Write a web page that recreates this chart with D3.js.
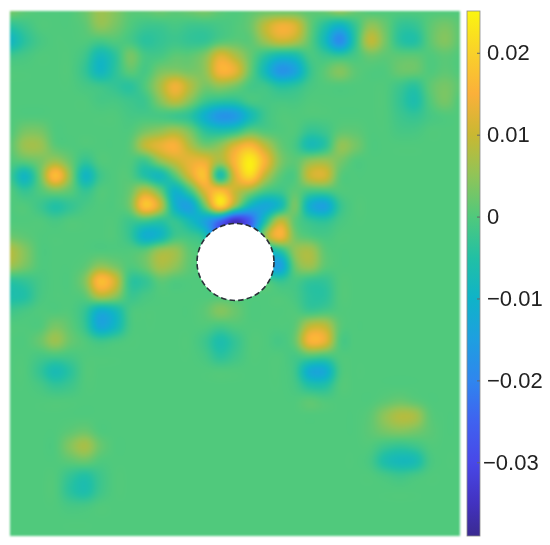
<!DOCTYPE html>
<html>
<head>
<meta charset="utf-8">
<script src="https://cdn.jsdelivr.net/npm/d3@7"></script>
<style>
  body { margin: 0; background: #fff; }
  #chart { position: relative; width: 550px; height: 545px; overflow: hidden; }
  #chart canvas, #chart svg { position: absolute; left: 0; top: 0; }
  #chart canvas { filter: blur(0.9px); }
</style>
</head>
<body>
<div id="chart"></div>
<script>
// field, in units of 0.001, 31 columns x 36 rows
var heatValues = [
  [3,1,0,0,0,2,6,4,1,1, 2,1,2,3,1,0,1,2,2,2, 1,2,5,2,0,0,0,0,0,0, 0],
  [-4,-2,0,0,0,1,5,3,0,-2, -2,-1,-2,-2,-1,0,2,9,14,12, 2,-5,-10,-3,5,2,-3,-3,1,3, 1],
  [-9,-4,-1,0,0,0,-1,0,-1,-4, -3,-2,-3,-3,0,1,1,6,10,8, 1,-8,-19,-4,9,3,-4,-5,1,4, 1],
  [-2,-1,0,0,0,-2,-8,-4,3,-1, -1,1,1,4,12,8,2,-4,-8,-7, -1,-2,-3,-1,2,1,1,1,0,1, 0],
  [0,0,0,0,0,-3,-9,-4,1,-1, 3,4,3,5,15,13,2,-8,-17,-14, -3,1,4,1,0,0,2,2,0,1, 0],
  [0,0,0,0,0,-1,-2,-3,-4,0, 7,14,8,3,5,3,-1,-2,-5,-4, -1,0,0,0,0,0,-2,-4,1,3, 1],
  [0,0,0,0,0,0,-1,-1,-2,-2, 4,9,4,-2,-4,-4,-1,-1,-1,-1, 0,0,0,0,0,0,-3,-6,0,3, 0],
  [0,0,0,0,0,0,0,0,-1,-1, -1,-2,-4,-11,-17,-16,-8,-2,0,0, 0,0,0,0,0,0,-2,-3,-1,0, 0],
  [0,3,3,0,0,0,0,0,0,3, 5,7,3,-4,-6,-4,1,0,0,0, -3,-2,1,1,0,0,-1,-1,0,0, 0],
  [1,6,6,1,0,0,0,0,1,9, 13,15,8,3,5,12,16,9,2,-1, -7,-4,5,3,0,0,0,0,0,0, 0],
  [0,1,3,6,2,-3,0,0,0,-2, 5,10,13,13,7,16,24,15,4,1, 5,6,3,0,0,0,0,0,0,0, 0],
  [-2,-9,2,17,5,-9,-2,0,0,-5, -8,0,11,17,-6,12,21,9,1,0, 10,11,1,0,0,0,0,0,0,0, 0],
  [0,-3,0,3,1,-3,0,0,2,9, 2,-10,-2,12,17,10,5,-1,-2,1, -1,-1,0,0,0,0,0,0,0,0, 0],
  [0,0,-2,-5,-3,-1,0,0,3,18, 10,-10,-14,2,20,5,-9,-13,-8,3, -11,-14,-3,0,0,0,0,0,0,0, 0],
  [0,0,0,-1,0,0,0,0,-2,-2, -4,-3,-8,-14,-24,-35,-26,-6,9,1, -3,-4,-1,0,0,0,0,0,0,0, 0],
  [2,1,0,0,0,0,0,0,-3,-11, -9,-2,-2,-6,-25,-25,-18,5,15,3, 0,-1,0,0,0,0,0,0,0,0, 0],
  [8,4,0,0,0,0,0,0,0,1, 6,6,1,0,0,0,0,-8,-5,5, 7,1,0,0,0,0,0,0,0,0, 0],
  [6,3,0,0,0,1,5,3,0,2, 7,5,1,0,0,0,0,-10,-15,2, 6,1,0,0,0,0,0,0,0,0, 0],
  [-4,-3,-1,0,0,4,17,11,-3,-3, 1,0,0,0,0,0,0,0,-3,-1, -3,-3,0,0,0,0,0,0,0,0, 0],
  [-6,-5,-1,0,0,1,8,5,-2,-1, 0,0,0,0,0,0,0,0,0,-1, -4,-4,0,0,0,0,0,0,0,0, 0],
  [-2,-1,0,0,0,-3,-11,-8,-1,0, 0,0,0,1,4,2,0,0,0,0, -2,-1,0,0,0,0,0,0,0,0, 0],
  [0,0,0,3,1,-3,-13,-9,-1,0, 0,0,0,0,-1,0,0,0,0,1, 9,9,1,0,0,0,0,0,0,0, 0],
  [0,0,2,6,2,0,-2,-1,0,0, 0,0,0,-2,-6,-3,0,0,-1,2, 15,13,0,0,0,0,0,0,0,0, 0],
  [0,0,-1,-1,-1,0,0,0,0,0, 0,0,0,-1,-4,-2,0,0,0,-1, 0,-1,0,0,0,0,0,0,0,0, 0],
  [0,0,-3,-7,-4,0,0,0,0,0, 0,0,0,0,0,0,0,0,0,-2, -12,-12,-1,0,0,0,0,0,0,0, 0],
  [0,0,-1,-3,-2,0,0,0,0,0, 0,0,0,0,0,0,0,0,0,-1, -5,-5,0,0,0,0,0,0,0,0, 0],
  [0,0,0,0,0,0,0,0,0,0, 0,0,0,0,0,0,0,0,0,0, 1,0,0,0,0,1,2,1,0,0, 0],
  [0,0,0,0,0,0,0,0,0,0, 0,0,0,0,0,0,0,0,0,0, 0,0,0,0,1,5,8,7,1,0, 0],
  [0,0,0,0,1,2,0,0,0,0, 0,0,0,0,0,0,0,0,0,0, 0,0,0,0,1,3,4,3,1,0, 0],
  [0,0,0,0,4,7,2,0,0,0, 0,0,0,0,0,0,0,0,0,0, 0,0,0,0,0,-2,-3,-2,0,0, 0],
  [0,0,0,0,1,2,0,0,0,0, 0,0,0,0,0,0,0,0,0,0, 0,0,0,0,-1,-6,-8,-7,-1,0, 0],
  [0,0,0,0,-3,-5,-2,0,0,0, 0,0,0,0,0,0,0,0,0,0, 0,0,0,0,0,-1,-2,-1,0,0, 0],
  [0,0,0,0,-4,-6,-2,0,0,0, 0,0,0,0,0,0,0,0,0,0, 0,0,0,0,0,0,0,0,0,0, 0],
  [0,0,0,0,-1,-1,0,0,0,0, 0,0,0,0,0,0,0,0,0,0, 0,0,0,0,0,0,0,0,0,0, 0],
  [0,0,0,0,0,0,0,0,0,0, 0,0,0,0,0,0,0,0,0,0, 0,0,0,0,0,0,0,0,0,0, 0],
  [0,0,0,0,0,0,0,0,0,0, 0,0,0,0,0,0,0,0,0,0, 0,0,0,0,0,0,0,0,0,0, 0]
];
var heatUnit = 0.001;

// colour bar
var colorValues = [-0.039, -0.035, -0.03, -0.025, -0.02, -0.015, -0.01, -0.005, 0, 0.005, 0.01, 0.015, 0.02, 0.0251];
var colorStops  = ["#3a2a90", "#4232c0", "#4848e8", "#3f62f0", "#2f86ee", "#1e9fe0", "#0fb3c8", "#22c0a4",
                   "#50c97c", "#90c458", "#c9b832", "#fbb03a", "#f9d12a", "#fbf510"];
var tickValues = [-0.03, -0.02, -0.01, 0, 0.01, 0.02];
var tickLabels = ["\u22120.03", "\u22120.02", "\u22120.01", "0", "0.01", "0.02"];

// the cut-out, in plot pixels
var hole = { cx: 235.5, cy: 262, r: 38.5 };

var plot = { left: 10, right: 460, top: 11, bottom: 536 };
var bar  = { left: 467, right: 480, top: 11, bottom: 536 };

var nCols = heatValues[0].length, nRows = heatValues.length;
var x = d3.scaleLinear().domain([0, nCols - 1]).range([plot.left, plot.right]);
var y = d3.scaleLinear().domain([0, nRows - 1]).range([plot.top, plot.bottom]);
var barY = d3.scaleLinear().domain([colorValues[0], colorValues[colorValues.length - 1]]).range([bar.bottom, bar.top]);
var color = d3.scaleLinear().domain(colorValues).range(colorStops).clamp(true);

var chart = d3.select("#chart");

// heat map goes on a canvas, shaded smooth between the grid nodes
var canvas = chart.append("canvas").attr("width", 550).attr("height", 545);
var ctx = canvas.node().getContext("2d");

function cr(a, b, c, d, t) {
    return 0.5 * (2 * b + (c - a) * t + (2 * a - 5 * b + 4 * c - d) * t * t + (3 * b - a - 3 * c + d) * t * t * t);
}
function node(r, c) {
    r = Math.max(0, Math.min(nRows - 1, r));
    c = Math.max(0, Math.min(nCols - 1, c));
    return heatValues[r][c];
}
function sample(gx, gy) {
    var c = Math.floor(gx), r = Math.floor(gy), tx = gx - c, ty = gy - r;
    var rows = [-1, 0, 1, 2].map(function(k) {
        return cr(node(r + k, c - 1), node(r + k, c), node(r + k, c + 1), node(r + k, c + 2), tx);
    });
    return cr(rows[0], rows[1], rows[2], rows[3], ty);
}

for (var py = plot.top; py < plot.bottom; py++) {
    for (var px = plot.left; px < plot.right; px++) {
        ctx.fillStyle = color(sample(x.invert(px + 0.5), y.invert(py + 0.5)) * heatUnit);
        ctx.fillRect(px, py, 1, 1);
    }
}

var svg = chart.append("svg").attr("width", 550).attr("height", 545);

// hole in the field with its dashed rim
svg.append("circle")
    .attr("cx", hole.cx)
    .attr("cy", hole.cy)
    .attr("r", hole.r)
    .attr("fill", "#fff")
    .attr("stroke", "#2a2f38")
    .attr("stroke-width", 1.6)
    .attr("stroke-dasharray", "5.5,3.2");

// colour bar
var grad = svg.append("defs").append("linearGradient")
    .attr("id", "barGrad")
    .attr("x1", 0).attr("x2", 0).attr("y1", 1).attr("y2", 0);

grad.selectAll("stop")
    .data(colorValues)
    .enter()
    .append("stop")
    .attr("offset", function(d) { return (bar.bottom - barY(d)) / (bar.bottom - bar.top); })
    .attr("stop-color", function(d, i) { return colorStops[i]; });

svg.append("rect")
    .attr("x", bar.left)
    .attr("y", bar.top)
    .attr("width", bar.right - bar.left)
    .attr("height", bar.bottom - bar.top)
    .attr("fill", "url(#barGrad)")
    .attr("stroke", "#8a8a8a")
    .attr("stroke-width", 0.8);

var axis = d3.axisRight(barY)
    .tickValues(tickValues)
    .tickSize(-3)
    .tickPadding(7)
    .tickFormat(function(d, i) { return tickLabels[i]; });

var axisG = svg.append("g")
    .attr("transform", "translate(" + bar.right + ",0)")
    .call(axis);

axisG.select(".domain").remove();
axisG.selectAll(".tick line").attr("stroke", "#666").attr("stroke-width", 1);
axisG.selectAll(".tick text")
    .attr("fill", "#222")
    .style("font-family", "'Liberation Sans', Arial, sans-serif")
    .style("font-size", "22px")
    // the -0.03 label sits a bit further left in the original
    .attr("x", function(d) { return d === -0.03 ? 3 : 7; });
</script>
</body>
</html>
